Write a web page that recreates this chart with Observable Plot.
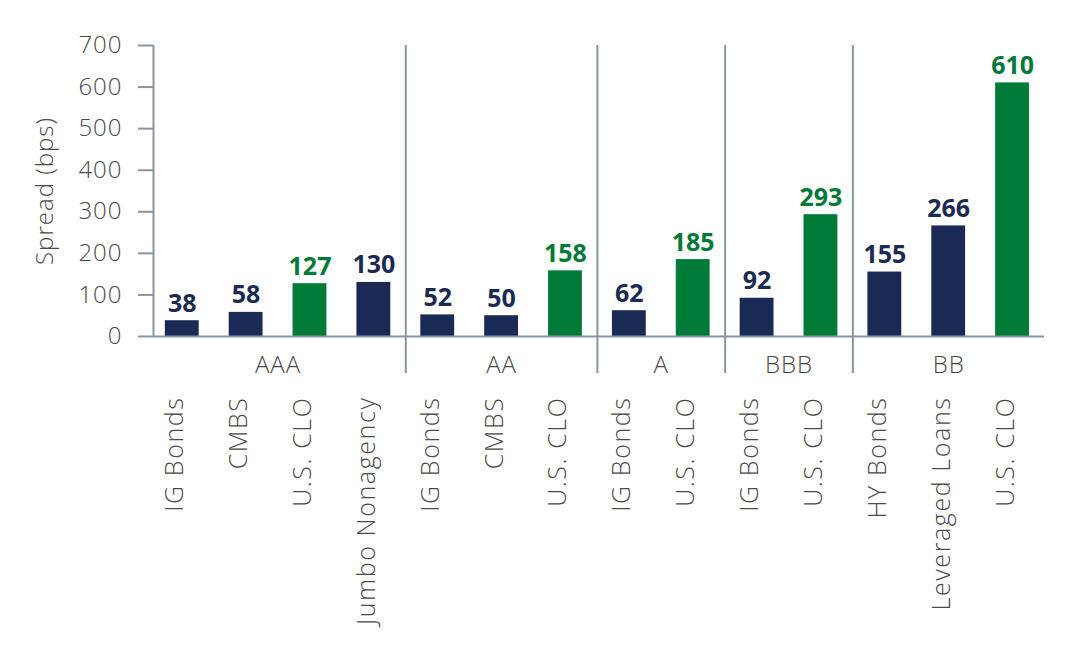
<!DOCTYPE html>
<html>
<head>
<meta charset="utf-8">
<script src="https://cdn.jsdelivr.net/npm/d3@7"></script>
<script src="https://cdn.jsdelivr.net/npm/@observablehq/plot@0.6"></script>
<style>
  body { margin: 0; background: #fff; }
  #chart svg { font-family: "Open Sans", sans-serif; }
  #chart svg .lt text { letter-spacing: 1px; }
  #chart svg .sect text { letter-spacing: 1.6px; }
</style>
</head>
<body>
<div id="chart"></div>
<script>
// ---- data ----
const ratings = ["AAA", "AAA", "AAA", "AAA", "AA", "AA", "AA", "A", "A", "BBB", "BBB", "BB", "BB", "BB"];
const sectors = ["IG Bonds", "CMBS", "U.S. CLO", "Jumbo Nonagency", "IG Bonds", "CMBS", "U.S. CLO",
                 "IG Bonds", "U.S. CLO", "IG Bonds", "U.S. CLO", "HY Bonds", "Leveraged Loans", "U.S. CLO"];
const spreads = [38, 58, 127, 130, 52, 50, 158, 62, 185, 92, 293, 155, 266, 610];
const yTicks = [0, 100, 200, 300, 400, 500, 600, 700];
const yLabel = "Spread (bps)";

// ---- derived tables ----
const rows = spreads.map((v, i) => ({i, rating: ratings[i], sector: sectors[i], spread: v, clo: sectors[i] === "U.S. CLO"}));
const groupNames = [...new Set(ratings)];
const groups = groupNames.map(g => {
  const idx = rows.filter(r => r.rating === g).map(r => r.i);
  return {rating: g, first: d3.min(idx), last: d3.max(idx), mid: d3.mean(idx)};
});
const separators = groups.slice(1).map(g => g.first - 0.5);

const NAVY = "#1b2a54";
const GREEN = "#007a37";
const GRAY = "#8896a3";
const TEXT = "#4a4a4a";
const half = 0.265;

const chart = Plot.plot({
  width: 1076,
  height: 656,
  marginLeft: 153,
  marginRight: 32,
  marginTop: 45,
  marginBottom: 320,
  style: {fontFamily: "'Open Sans', sans-serif", background: "#fff"},
  x: {domain: [-0.45, 13.5], axis: null},
  y: {domain: [0, 700], axis: null},
  marks: [
    // separators
    Plot.ruleX(separators, {stroke: GRAY, strokeWidth: 2, insetBottom: -37}),
    // y axis line
    Plot.ruleX([-0.45], {stroke: GRAY, strokeWidth: 2}),
    // bars
    Plot.rectY(rows, {x1: d => d.i - half, x2: d => d.i + half, y1: 0, y2: "spread",
                      fill: d => d.clo ? GREEN : NAVY}),
    // baseline
    Plot.ruleY([0], {stroke: GRAY, strokeWidth: 2}),
    // y axis
    Plot.axisY({ticks: yTicks, tickSize: 15, tickPadding: 16, stroke: GRAY, strokeWidth: 2,
                fontSize: 24, fill: TEXT, label: null, fontWeight: 300, className: "lt"}),
    Plot.text([yLabel], {text: d => d, frameAnchor: "left", dx: -108, rotate: -90, textAnchor: "middle",
                         fontSize: 24, fill: TEXT, fontWeight: 300, className: "lt"}),
    // value labels
    Plot.text(rows, {x: "i", y: "spread", text: d => String(d.spread), dy: -17,
                     fontSize: 25, fontWeight: 700, fill: d => d.clo ? GREEN : NAVY}),
    // group labels
    Plot.text(groups, {x: "mid", text: "rating", frameAnchor: "bottom", dy: 36,
                       fontSize: 24, fill: TEXT, fontWeight: 300, className: "lt"}),
    // sector labels
    Plot.text(rows, {x: "i", text: "sector", frameAnchor: "bottom", dy: 60, dx: 1,
                     rotate: -90, textAnchor: "end", fontSize: 25, fill: TEXT, fontWeight: 300, className: "sect"})
  ]
});
document.getElementById("chart").appendChild(chart);
</script>
</body>
</html>
